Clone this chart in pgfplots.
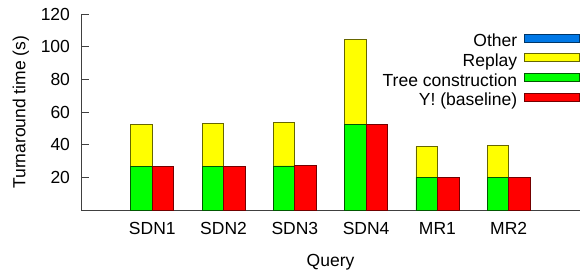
\documentclass[border=0pt]{standalone}
\usepackage{fontspec}
\setmainfont{Liberation Sans}
\usepackage{pgfplots}
\pgfplotsset{compat=1.18}
\definecolor{cblue}{RGB}{0,120,230}
\definecolor{cyellow}{RGB}{255,255,0}
\definecolor{cgreen}{RGB}{0,255,0}
\definecolor{cred}{RGB}{255,0,0}
\newcommand{\ff}{\fontsize{17.5}{21}\selectfont}
\begin{document}
\ff
\begin{tikzpicture}
\begin{axis}[
  scale only axis, width=499pt, height=195.7pt,
  xmin=-1, xmax=6, ymin=0, ymax=120,
  axis x line=bottom, axis y line=left,
  axis line style={-, black!75, line width=1pt},
  ytick={20,40,...,120},
  xtick={0,1,2,3,4,5},
  xticklabels={SDN1,SDN2,SDN3,SDN4,MR1,MR2},
  x tick style={draw=none},
  y tick style={black!75, line width=1pt},
  major tick length=8pt, tick align=inside,
  /pgf/number format/assume math mode=true,
  tick label style={font=\ff},
  yticklabel style={xshift=-5pt},
  xticklabel style={yshift=-6pt},
  label style={font=\ff},
  xlabel style={yshift=-8pt},
  ylabel={Turnaround time (s)}, xlabel={Query},
  ybar stacked, bar width=21.5pt,
  legend image code/.code={\draw[#1, line width=0.8pt] (0pt,0.5pt) rectangle (55pt,8.5pt);},
  legend plot pos=right, legend cell align=right,
  legend style={at={(1,0.903)}, anchor=north east, draw=none, fill=none,
    inner sep=0pt, outer sep=0pt, row sep=1.2pt, column sep=6pt, font=\ff,
    nodes={inner sep=1pt, text height=12.5pt, text depth=4pt}},
]
% Tree construction
\addplot[forget plot, fill=cgreen, draw=cgreen!35!black, line width=0.8pt, bar shift=-10.75pt]
  coordinates {(0,26.8) (1,26.8) (2,27.0) (3,52.5) (4,20.0) (5,19.8)};
% Replay
\addplot[forget plot, fill=cyellow, draw=cyellow!40!black, line width=0.8pt, bar shift=-10.75pt]
  coordinates {(0,25.7) (1,26.1) (2,26.5) (3,52.3) (4,18.8) (5,19.9)};
% Other
\addplot[forget plot, fill=cblue, draw=none, bar shift=-10.75pt]
  coordinates {(0,0) (1,0) (2,0) (3,0) (4,0) (5,0)};
\addlegendimage{fill=cblue, draw=cblue!45!black}
\addlegendentry{Other}
\addlegendimage{fill=cyellow, draw=cyellow!40!black}
\addlegendentry{Replay}
\addlegendimage{fill=cgreen, draw=cgreen!35!black}
\addlegendentry{Tree construction}
\addlegendimage{fill=cred, draw=cred!45!black}
\addlegendentry{Y! (baseline)}
\end{axis}
\begin{axis}[
  scale only axis, width=499pt, height=195.7pt,
  xmin=-1, xmax=6, ymin=0, ymax=120,
  axis lines=none, ybar, bar width=21.5pt,
]
% Y! baseline
\addplot[fill=cred, draw=cred!45!black, line width=0.8pt, bar shift=10.75pt]
  coordinates {(0,26.8) (1,26.8) (2,27.2) (3,52.5) (4,20.0) (5,19.8)};
\end{axis}
\path ([shift={(-81pt,-66pt)}]current axis.south west) rectangle ([shift={(1pt,14.3pt)}]current axis.north east);
\end{tikzpicture}
\end{document}
